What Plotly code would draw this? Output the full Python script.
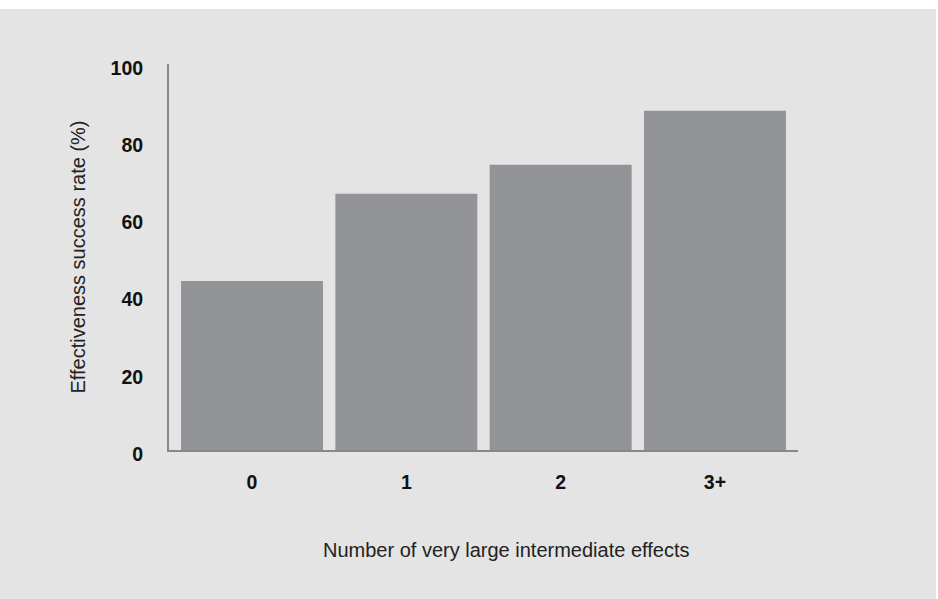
import plotly.graph_objects as go

# Success rate by number of very large intermediate effects
categories = ["0", "1", "2", "3+"]
success_rate = [43.8, 66.4, 73.9, 87.9]
y_ticks = [0, 20, 40, 60, 80, 100]

BG = "#e3e4e3"
BAR = "#939498"
AXIS = "#87888b"
FONT = "Liberation Sans, Arial, Helvetica, sans-serif"

fig = go.Figure(
    go.Bar(
        x=categories,
        y=success_rate,
        marker=dict(color=BAR, line=dict(width=0)),
        hoverinfo="x+y",
    )
)

fig.update_layout(
    width=938,
    height=599,
    paper_bgcolor="white",
    plot_bgcolor=BG,
    margin=dict(l=169, r=140, t=64, b=149),
    bargap=0.08,
    showlegend=False,
    font=dict(family=FONT, color="#111111"),
    shapes=[
        dict(
            type="rect", xref="paper", yref="paper", layer="below",
            x0=-169 / 629, x1=(936 - 169) / 629,
            y0=-149 / 386, y1=(599 - 9 - 149) / 386,
            fillcolor=BG, line=dict(width=0),
        )
    ],
    annotations=[
        # x-axis title, centred a little right of the plot area
        dict(
            text="Number of very large intermediate effects",
            xref="paper", yref="paper",
            x=(506 - 169) / 629, y=-(550 - 450) / 386,
            xanchor="center", yanchor="middle", showarrow=False,
            font=dict(size=20, family=FONT, color="#222222"),
        )
    ],
)

fig.update_xaxes(
    range=[-0.538, 3.538],
    showline=True, linecolor=AXIS, linewidth=2,
    showgrid=False, zeroline=False, ticks="",
    tickfont=dict(size=19.5, family=FONT, color="#111111", weight="bold"),
    ticklabelstandoff=14,
)

fig.update_yaxes(
    range=[0, 100],
    tickvals=y_ticks,
    showline=True, linecolor=AXIS, linewidth=2,
    showgrid=False, zeroline=False, ticks="",
    tickfont=dict(size=19.5, family=FONT, color="#111111", weight="bold"),
    ticklabelstandoff=20,
    ticklabelshift=4,
    title=dict(text="Effectiveness success rate (%)",
               font=dict(size=20, family=FONT, color="#222222"), standoff=20),
)

fig.write_html("out.html")
